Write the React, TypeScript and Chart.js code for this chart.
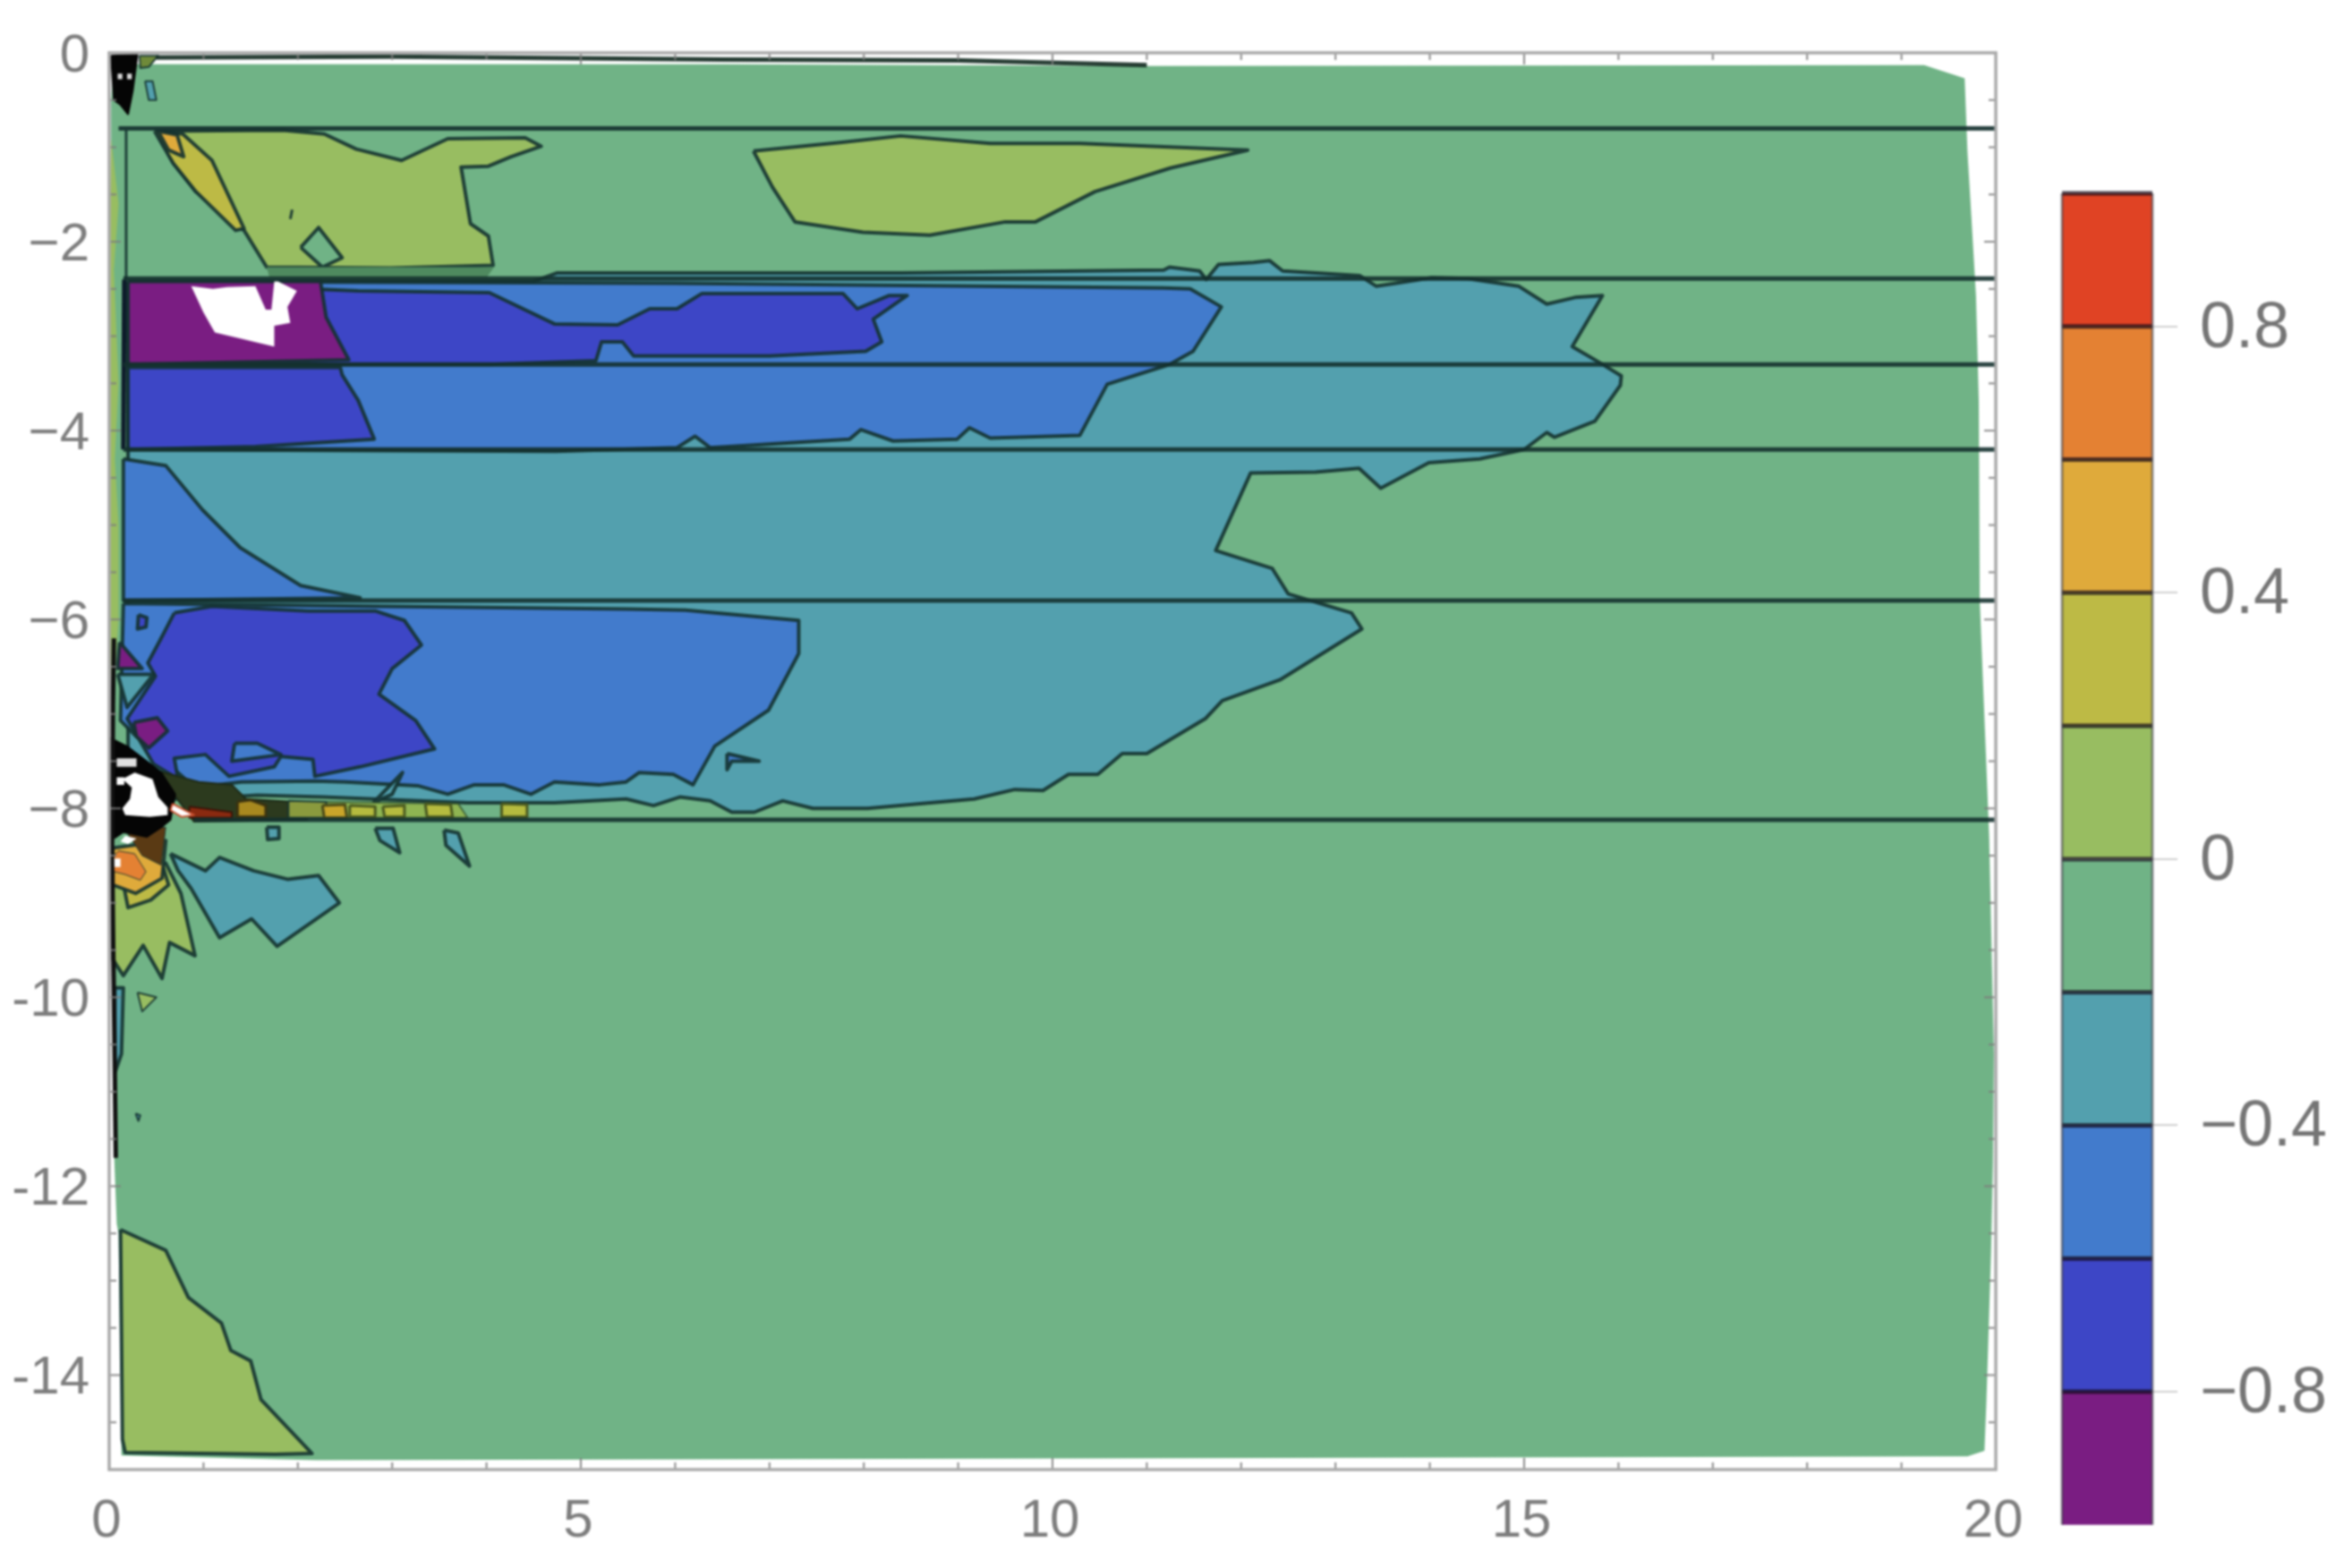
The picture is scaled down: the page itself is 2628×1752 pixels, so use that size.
import React, { useEffect, useRef } from "react";
import { Chart, registerables } from "chart.js";

Chart.register(...registerables);

type P = number[];

const xTicks = [0, 5, 10, 15, 20];
const xLabels = ["0", "5", "10", "15", "20"];
const yTicks = [0, -2, -4, -6, -8, -10, -12, -14];
const yLabels = ["0", "−2", "−4", "−6", "−8", "-10", "-12", "-14"];
const xMinor = [1, 2, 3, 4, 6, 7, 8, 9, 11, 12, 13, 14, 16, 17, 18, 19];
const yMinor = [-0.5, -1, -1.5, -2.5, -3, -3.5, -4.5, -5, -5.5, -6.5, -7, -7.5, -8.5, -9, -9.5, -10.5, -11, -11.5, -12.5, -13, -13.5, -14.5];

const barLevels = [-1, -0.8, -0.6, -0.4, -0.2, 0, 0.2, 0.4, 0.6, 0.8, 1];
const barSeparators = [-0.8, -0.6, -0.4, -0.2, 0, 0.2, 0.4, 0.6, 0.8, 1];
const barColors = ["#7A1D82", "#3D46C6", "#427BCC", "#53A0AE", "#70B386", "#98BD61", "#BDBA45", "#DFAA3B", "#E48133", "#E04324"];
const barTicks = [-0.8, -0.4, 0, 0.4, 0.8];
const barLabels = ["−0.8", "−0.4", "0", "0.4", "0.8"];

const PURPLE = barColors[0], DARK = barColors[1], BLUE = barColors[2], TEAL = barColors[3], GREEN = barColors[4];
const YG = barColors[5], OLIVE = barColors[6], GOLD = barColors[7], ORANGE = barColors[8];

const greenField: P[] = [[0.05, -0.12], [6.5, -0.12], [11, -0.14], [19.24, -0.13], [19.67, -0.27], [19.7, -1.05], [19.74, -1.72], [19.79, -2.57], [19.82, -3.7], [19.83, -5.8], [19.93, -8.3], [19.98, -10.6], [19.97, -11.76], [19.95, -12.7], [19.92, -13.66], [19.9, -14.29], [19.88, -14.8], [19.7, -14.86], [2.2, -14.9], [0.13, -14.85], [0.1, -12.5], [0.08, -12.4], [0.05, -11.6], [0.03, -8], [0.02, -0.5]];
const leftStrip: P[] = [[0.02, -0.9], [0.1, -1.6], [0.05, -2.3], [0.1, -3.5], [0.06, -4.3], [0.1, -5], [0.1, -6], [0.03, -7], [0.0, -6], [0.0, -2]];

const ygLeft: P[] = [[0.5, -0.83], [1.84, -0.82], [2.28, -0.86], [2.62, -1.02], [3.1, -1.14], [3.59, -0.91], [4.41, -0.9], [4.58, -0.99], [4.26, -1.1], [4.02, -1.2], [3.73, -1.21], [3.83, -1.81], [4.02, -1.94], [4.07, -2.25], [2.98, -2.28], [1.67, -2.27], [1.43, -1.88], [0.92, -1.47], [0.68, -1.17]];
const oliveStrip: P[] = [[0.48, -0.83], [0.78, -0.86], [1.09, -1.14], [1.43, -1.86], [1.34, -1.88], [0.92, -1.47], [0.68, -1.17]];
const goldBlob: P[] = [[0.52, -0.83], [0.72, -0.87], [0.79, -1.1], [0.63, -1.03]];
const greenHole: P[] = [[2.03, -2.06], [2.22, -1.85], [2.47, -2.17], [2.26, -2.27]];
const ygMark: P[] = [[1.94, -1.66], [1.92, -1.76]];
const darkGreenBand: P[] = [[1.67, -2.27], [4.08, -2.27], [4.0, -2.38], [1.7, -2.38]];
const ygMiddle: P[] = [[6.83, -1.04], [7.75, -0.95], [8.39, -0.88], [9.34, -0.96], [10.29, -0.96], [12.07, -1.03], [11.25, -1.22], [10.45, -1.47], [9.82, -1.79], [9.5, -1.79], [8.7, -1.93], [7.99, -1.9], [7.27, -1.79], [7.03, -1.42]];
const ygBottom: P[] = [[0.12, -12.46], [0.6, -12.68], [0.84, -13.18], [1.19, -13.45], [1.29, -13.74], [1.5, -13.85], [1.61, -14.26], [2.15, -14.83], [1.76, -14.84], [0.17, -14.82], [0.14, -14.68]];

const tealMain: P[] = [[0.2, -2.42], [4.5, -2.42], [4.75, -2.33], [8.39, -2.33], [11.18, -2.3], [11.24, -2.27], [11.56, -2.31], [11.63, -2.4], [11.76, -2.24], [12.13, -2.22], [12.3, -2.2], [12.44, -2.31], [13.26, -2.36], [13.43, -2.47], [13.64, -2.44], [14.02, -2.38], [14.4, -2.39], [14.94, -2.47], [15.24, -2.66], [15.54, -2.59], [15.83, -2.57], [15.51, -3.11], [15.8, -3.28], [16.03, -3.42], [16.02, -3.52], [15.75, -3.9], [15.32, -4.07], [15.24, -4.02], [15.0, -4.2], [14.53, -4.3], [13.99, -4.34], [13.48, -4.61], [13.25, -4.4], [12.79, -4.44], [12.1, -4.45], [11.73, -5.27], [12.33, -5.46], [12.5, -5.73], [13.17, -5.93], [13.28, -6.1], [12.41, -6.64], [11.8, -6.86], [11.62, -7.05], [11.0, -7.42], [10.74, -7.42], [10.48, -7.64], [10.17, -7.64], [9.9, -7.81], [9.6, -7.8], [9.17, -7.9], [8.6, -7.95], [8.04, -8.0], [7.46, -8.0], [7.14, -7.92], [6.84, -8.04], [6.6, -8.04], [6.37, -7.92], [6.05, -7.88], [5.77, -7.97], [5.48, -7.9], [4.72, -7.94], [3.8, -7.94], [2.26, -7.88], [1.57, -7.86], [0.9, -7.9], [0.2, -7.9]];
const blueUpper: P[] = [[0.2, -2.42], [6, -2.44], [11.18, -2.49], [11.46, -2.5], [11.79, -2.69], [11.49, -3.16], [11.24, -3.3], [10.58, -3.51], [10.29, -4.05], [9.34, -4.08], [9.12, -3.97], [8.99, -4.09], [8.31, -4.11], [7.97, -3.99], [7.85, -4.09], [6.37, -4.18], [6.21, -4.06], [6.02, -4.18], [4.73, -4.22], [0.2, -4.2]];
const darkUpper: P[] = [[0.2, -2.42], [2.64, -2.52], [4.03, -2.54], [4.72, -2.87], [5.39, -2.88], [5.73, -2.71], [6.02, -2.71], [6.28, -2.55], [7.78, -2.55], [7.93, -2.71], [8.27, -2.57], [8.46, -2.57], [8.1, -2.82], [8.19, -3.06], [8.02, -3.16], [7.0, -3.21], [5.56, -3.21], [5.44, -3.06], [5.22, -3.06], [5.16, -3.26], [4.03, -3.3], [2.54, -3.3], [0.2, -3.3]];
const darkUpperLow: P[] = [[0.2, -3.33], [2.45, -3.33], [2.47, -3.41], [2.64, -3.68], [2.81, -4.09], [1.55, -4.17], [0.2, -4.2]];
const purpleUpper: P[] = [[0.2, -2.42], [2.24, -2.42], [2.3, -2.8], [2.54, -3.25], [0.2, -3.3]];
const whiteUpper: P[] = [[0.87, -2.47], [1.1, -2.5], [1.25, -2.48], [1.55, -2.47], [1.66, -2.72], [1.72, -2.72], [1.75, -2.42], [1.79, -2.42], [1.99, -2.52], [1.89, -2.69], [1.92, -2.86], [1.75, -2.89], [1.75, -3.11], [1.12, -2.96], [1.0, -2.75]];

const blueWedge: P[] = [[0.15, -4.3], [0.6, -4.37], [0.99, -4.84], [1.39, -5.24], [2.03, -5.64], [2.66, -5.77], [0.15, -5.8]];
const blueMain: P[] = [[0.15, -5.83], [5.48, -5.89], [6.11, -5.9], [7.31, -6.01], [7.31, -6.36], [6.99, -6.96], [6.42, -7.34], [6.19, -7.75], [5.98, -7.64], [5.62, -7.62], [5.48, -7.72], [5.2, -7.75], [4.72, -7.72], [4.47, -7.85], [4.18, -7.75], [3.87, -7.75], [3.59, -7.85], [3.27, -7.76], [2.51, -7.72], [2.19, -7.71], [1.4, -7.72], [0.91, -7.78], [0.28, -7.23], [0.12, -7.07]];
const darkMain: P[] = [[0.69, -5.93], [1.09, -5.86], [2.11, -5.91], [2.82, -5.91], [3.13, -6.01], [3.31, -6.27], [3.0, -6.52], [2.86, -6.79], [3.25, -7.07], [3.45, -7.37], [2.66, -7.56], [2.18, -7.66], [2.16, -7.48], [1.82, -7.45], [1.75, -7.56], [1.27, -7.66], [1.02, -7.43], [0.69, -7.47], [0.73, -7.69], [0.47, -7.53], [0.19, -7.05], [0.49, -6.6], [0.41, -6.46], [0.55, -6.2]];
const blueSpeck: P[] = [[1.33, -7.31], [1.57, -7.31], [1.82, -7.43], [1.3, -7.5]];
const blueIsland: P[] = [[6.55, -7.42], [6.89, -7.5], [6.6, -7.5], [6.55, -7.59]];
const darkSpeck: P[] = [[0.31, -5.95], [0.4, -5.98], [0.39, -6.08], [0.3, -6.1]];
const purpleBlob: P[] = [[0.26, -7.09], [0.51, -7.04], [0.62, -7.18], [0.42, -7.36], [0.29, -7.24]];
const purpleTip: P[] = [[0.11, -6.24], [0.35, -6.52], [0.09, -6.52]];
const tealTip: P[] = [[0.09, -6.58], [0.47, -6.58], [0.19, -6.93]];
const tealSliver: P[] = [[2.8, -7.94], [3.11, -7.62], [3.0, -7.85]];

const fringeBand: P[] = [[0.5, -7.6], [0.95, -7.72], [1.3, -7.75], [1.45, -7.9], [1.95, -7.93], [2.1, -8.12], [0.9, -8.14]];
const ygBand: P[] = [[2.3, -7.93], [3.7, -7.95], [3.8, -8.1], [2.3, -8.1]];
const oliveA: P[] = [[1.9, -7.92], [2.3, -7.93], [2.3, -8.1], [1.9, -8.1]];
const goldA: P[] = [[1.36, -7.93], [1.5, -7.91], [1.66, -7.97], [1.66, -8.09], [1.36, -8.09]];
const goldB: P[] = [[2.26, -7.97], [2.5, -7.96], [2.52, -8.1], [2.28, -8.1]];
const oliveB: P[] = [[2.55, -7.97], [2.82, -7.98], [2.82, -8.09], [2.55, -8.09]];
const oliveC: P[] = [[2.9, -7.98], [3.13, -7.97], [3.13, -8.09], [2.92, -8.09]];
const oliveD: P[] = [[3.35, -7.95], [3.62, -7.96], [3.64, -8.09], [3.37, -8.09]];
const oliveE: P[] = [[4.16, -7.95], [4.43, -7.96], [4.43, -8.09], [4.16, -8.09]];
const redStreak: P[] = [[0.85, -7.98], [1.3, -8.04], [1.3, -8.1], [0.85, -8.1]];

const blackBlob: P[] = [[0, -7.25], [0.2, -7.35], [0.55, -7.62], [0.7, -7.85], [0.65, -8.12], [0.55, -8.2], [0.4, -8.3], [0.15, -8.25], [0, -8.35]];
const whiteBlob: P[] = [[0.14, -7.69], [0.27, -7.62], [0.46, -7.69], [0.52, -7.88], [0.62, -7.99], [0.62, -8.07], [0.43, -8.09], [0.17, -8.07], [0.14, -8.0], [0.22, -7.9], [0.24, -7.78]];
const whiteTip: P[] = [[0.67, -7.95], [0.9, -8.07], [0.77, -8.09], [0.65, -8.02]];
const whiteSide: P[] = [[0.08, -7.67], [0.16, -7.67], [0.16, -7.75], [0.08, -7.75]];
const whiteKnob: P[] = [[0.08, -7.47], [0.29, -7.47], [0.29, -7.56], [0.08, -7.56]];
const whiteChip: P[] = [[0.17, -8.29], [0.29, -8.32], [0.2, -8.38], [0.12, -8.35]];
const whiteDot: P[] = [[0.05, -8.53], [0.12, -8.53], [0.12, -8.62], [0.05, -8.62]];

const ygLower: P[] = [[0.04, -8.81], [0.6, -8.58], [0.76, -8.9], [0.91, -9.56], [0.64, -9.42], [0.56, -9.8], [0.36, -9.45], [0.15, -9.77], [0.04, -9.6]];
const oliveLower: P[] = [[0.09, -8.5], [0.52, -8.46], [0.63, -8.81], [0.44, -8.97], [0.2, -9.05]];
const goldLower: P[] = [[0.04, -8.42], [0.6, -8.34], [0.56, -8.74], [0.28, -8.9], [0.04, -8.81]];
const orangeLower: P[] = [[0.1, -8.45], [0.27, -8.48], [0.39, -8.67], [0.33, -8.76], [0.17, -8.7], [0.01, -8.66], [0.01, -8.54]];
const brownLower: P[] = [[0.15, -8.2], [0.6, -8.2], [0.55, -8.6], [0.35, -8.5]];
const ygSpeck: P[] = [[0.3, -9.95], [0.5, -10], [0.35, -10.15]];
const tealDot: P[] = [[0.28, -11.23], [0.33, -11.25], [0.31, -11.31]];
const tealLower: P[] = [[0.65, -8.48], [1.02, -8.66], [1.17, -8.52], [1.53, -8.66], [1.89, -8.75], [2.22, -8.71], [2.44, -9.0], [1.78, -9.46], [1.51, -9.17], [1.17, -9.37], [0.87, -8.85], [0.73, -8.66]];
const tealShardA: P[] = [[2.82, -8.21], [3.01, -8.21], [3.08, -8.47], [2.87, -8.34]];
const tealShardB: P[] = [[3.55, -8.23], [3.7, -8.26], [3.82, -8.61], [3.57, -8.39]];
const tealShardC: P[] = [[1.67, -8.2], [1.8, -8.2], [1.8, -8.32], [1.68, -8.33]];
const tealShardD: P[] = [[0.06, -9.9], [0.15, -9.9], [0.13, -10.6], [0.06, -10.8]];
const topBlack: P[] = [[0.02, -0.03], [0.3, -0.02], [0.25, -0.4], [0.2, -0.65], [0.12, -0.55], [0.05, -0.5]];
const topSpeckA: P[] = [[0.09, -0.22], [0.14, -0.22], [0.14, -0.28], [0.09, -0.28]];
const topSpeckB: P[] = [[0.19, -0.22], [0.24, -0.22], [0.24, -0.28], [0.19, -0.28]];
const topOlive: P[] = [[0.32, -0.03], [0.52, -0.03], [0.42, -0.15], [0.33, -0.16]];
const topTeal: P[] = [[0.38, -0.3], [0.46, -0.3], [0.5, -0.5], [0.42, -0.5]];

const topContour: P[] = [[0.5, -0.05], [3, -0.04], [6.5, -0.07], [9, -0.08], [11, -0.13]];
const leftSpine: P[] = [[0.05, -6.2], [0.04, -6.9], [0.03, -8.5], [0.05, -10], [0.07, -11.7]];
const innerEdge: P[] = [[0.18, -0.83], [0.18, -2.4]];
const innerEdgeLow: P[] = [[0.16, -2.4], [0.15, -4.2]];
const lineLevels: P[] = [[0.1, -0.8], [0.15, -2.39], [0.15, -3.3], [0.15, -4.2], [0.15, -5.8], [0.9, -8.12]];

const FRAME = "#a9a9a9";
const EDGE = "rgba(20,50,48,0.9)";

type Item = { pts: P[]; fill: string | null; line?: string; w?: number };
const items: Item[] = [
  { pts: greenField, fill: GREEN, line: "transparent", w: 0 },
  { pts: leftStrip, fill: YG, line: "transparent", w: 0 },
  { pts: ygLeft, fill: YG }, { pts: oliveStrip, fill: OLIVE }, { pts: goldBlob, fill: GOLD }, { pts: greenHole, fill: GREEN }, { pts: ygMark, fill: null, w: 3 }, { pts: darkGreenBand, fill: "#4f8a5f", line: "transparent", w: 0 }, { pts: ygMiddle, fill: YG }, { pts: ygBottom, fill: YG },
  { pts: tealMain, fill: TEAL }, { pts: blueUpper, fill: BLUE }, { pts: darkUpper, fill: DARK }, { pts: darkUpperLow, fill: DARK }, { pts: purpleUpper, fill: PURPLE }, { pts: whiteUpper, fill: "#ffffff", line: "transparent", w: 0 },
  { pts: blueWedge, fill: BLUE }, { pts: blueMain, fill: BLUE }, { pts: darkMain, fill: DARK }, { pts: blueSpeck, fill: BLUE }, { pts: blueIsland, fill: BLUE }, { pts: darkSpeck, fill: DARK }, { pts: purpleBlob, fill: PURPLE }, { pts: purpleTip, fill: PURPLE }, { pts: tealTip, fill: TEAL }, { pts: tealSliver, fill: TEAL },
  { pts: ygBand, fill: "#8fb552", line: "rgba(40,70,40,0.7)", w: 2 }, { pts: fringeBand, fill: "#2c3a1e", line: "#1d2a18", w: 2 }, { pts: oliveA, fill: "#8a9a3e", w: 2 }, { pts: goldA, fill: "#a8891f", line: "#3a3210", w: 3 }, { pts: goldB, fill: "#c9a52a", line: "#4a4a18", w: 3 }, { pts: oliveB, fill: "#b5bb3f", line: "#4a5a20", w: 3 }, { pts: oliveC, fill: "#b5bb3f", line: "#4a5a20", w: 3 }, { pts: oliveD, fill: "#b5bb3f", line: "#4a5a20", w: 3 }, { pts: oliveE, fill: "#b5bb3f", line: "#4a5a20", w: 3 }, { pts: redStreak, fill: "#8a2a10", line: "#3a1408", w: 2 },
  { pts: ygLower, fill: YG }, { pts: oliveLower, fill: OLIVE }, { pts: goldLower, fill: GOLD }, { pts: brownLower, fill: "#5a3a14", w: 1 }, { pts: orangeLower, fill: ORANGE, w: 1 }, { pts: ygSpeck, fill: YG, w: 2 }, { pts: tealDot, fill: TEAL, w: 2 },
  { pts: tealLower, fill: TEAL }, { pts: tealShardA, fill: TEAL }, { pts: tealShardB, fill: TEAL }, { pts: tealShardC, fill: TEAL }, { pts: tealShardD, fill: TEAL },
  { pts: blackBlob, fill: "#050505", line: "#050505", w: 2 }, { pts: whiteBlob, fill: "#ffffff", line: "transparent", w: 0 }, { pts: whiteTip, fill: "#ffffff", line: "#c9502f", w: 2 }, { pts: whiteSide, fill: "#ffffff", line: "transparent", w: 0 }, { pts: whiteKnob, fill: "#e0e0e0", line: "transparent", w: 0 }, { pts: whiteChip, fill: "#ffffff", line: "transparent", w: 0 }, { pts: whiteDot, fill: "#ffffff", line: "transparent", w: 0 },
  { pts: topBlack, fill: "#050505", line: "#050505", w: 2 }, { pts: topSpeckA, fill: "#d8d8d8", line: "transparent", w: 0 }, { pts: topSpeckB, fill: "#d8d8d8", line: "transparent", w: 0 }, { pts: topOlive, fill: "#6f8a3a", w: 2 }, { pts: topTeal, fill: TEAL, w: 2 },
  { pts: topContour, fill: null, line: "rgba(15,40,30,0.9)", w: 5 },
  { pts: leftSpine, fill: null, line: "#111111", w: 5 },
  { pts: innerEdge, fill: null, line: EDGE, w: 3 },
  { pts: innerEdgeLow, fill: null, line: "#0d1a2a", w: 5 },
  ...lineLevels.map(([start, y]) => ({ pts: [[start, y], [20, y]], fill: null, line: "rgba(20,48,46,0.9)", w: 5 })),
];

const PLOT = { left: 122, top: 59, right: 2230, bottom: 1642 };
const BAR = { left: 2304, top: 216, right: 2405, canvasHeight: 1772 };
const TEXT = "#7d7d7d";
const FONT = "'Liberation Sans', Arial, sans-serif";

const framePlugin = {
  id: "frameTicks",
  afterDatasetsDraw(chart: any) {
    const { ctx, chartArea: a, scales } = chart;
    ctx.save();
    ctx.strokeStyle = "rgba(125,125,125,0.9)";
    ctx.lineWidth = 2;
    const seg = (x1: number, y1: number, x2: number, y2: number) => { ctx.beginPath(); ctx.moveTo(x1, y1); ctx.lineTo(x2, y2); ctx.stroke(); };
    const xt = (v: number, l: number) => { const p = scales.x.getPixelForValue(v); seg(p, a.bottom, p, a.bottom - l); seg(p, a.top, p, a.top + l); };
    const yt = (v: number, l: number) => { const p = scales.y.getPixelForValue(v); seg(a.left, p, a.left + l, p); seg(a.right, p, a.right - l, p); };
    xMinor.forEach((v) => xt(v, 8)); xTicks.forEach((v) => xt(v, 13));
    yMinor.forEach((v) => yt(v, 8)); yTicks.forEach((v) => yt(v, 13));
    ctx.strokeStyle = FRAME;
    ctx.lineWidth = 3.5;
    ctx.strokeRect(a.left, a.top, a.right - a.left, a.bottom - a.top);
    ctx.restore();
  },
};

const separatorPlugin = {
  id: "barSeparators",
  afterDatasetsDraw(chart: any) {
    const { ctx, chartArea: a, scales } = chart;
    ctx.save();
    ctx.strokeStyle = "rgba(20,10,25,0.72)";
    ctx.lineWidth = 5;
    barSeparators.forEach((v) => {
      const p = scales.y.getPixelForValue(v);
      ctx.beginPath(); ctx.moveTo(a.left, p); ctx.lineTo(a.right, p); ctx.stroke();
    });
    ctx.strokeStyle = "rgba(60,60,70,0.55)";
    ctx.lineWidth = 3;
    ctx.beginPath(); ctx.moveTo(a.left, a.top); ctx.lineTo(a.left, a.bottom); ctx.moveTo(a.right, a.top); ctx.lineTo(a.right, a.bottom); ctx.stroke();
    ctx.restore();
  },
};

export default function App() {
  const plotRef = useRef<HTMLCanvasElement>(null);
  const barRef = useRef<HTMLCanvasElement>(null);

  useEffect(() => {
    const plot = new Chart(plotRef.current!, {
      type: "scatter",
      data: {
        datasets: items.map((it, i) => ({
          data: (it.fill ? [...it.pts, it.pts[0]] : it.pts).map(([x, y]) => ({ x, y })),
          showLine: true,
          fill: it.fill ? "shape" : false,
          backgroundColor: it.fill ?? "transparent",
          borderColor: it.line ?? EDGE,
          borderWidth: it.w ?? 4,
          borderJoinStyle: "round",
          pointRadius: 0,
          tension: 0,
          order: -i,
        })),
      },
      options: {
        animation: false,
        responsive: false,
        events: [],
        layout: { padding: { left: 0, top: PLOT.top, right: 2628 - PLOT.right, bottom: 0 } },
        plugins: { legend: { display: false }, tooltip: { enabled: false } },
        scales: {
          x: {
            type: "linear", min: 0, max: 20,
            border: { display: false }, grid: { display: false },
            afterBuildTicks: (s: any) => { s.ticks = xTicks.map((value) => ({ value })); },
            afterFit: (s: any) => { s.height = 1752 - PLOT.bottom; },
            ticks: {
              autoSkip: false, maxRotation: 0, padding: 14, labelOffset: -3, color: TEXT,
              font: { family: FONT, size: 60 },
              callback: (v: any) => xLabels[xTicks.indexOf(v)] ?? "",
            },
          },
          y: {
            type: "linear", min: -15, max: 0,
            border: { display: false }, grid: { display: false },
            afterBuildTicks: (s: any) => { s.ticks = yTicks.map((value) => ({ value })); },
            afterFit: (s: any) => { s.width = PLOT.left; },
            ticks: {
              autoSkip: false, padding: 14, labelOffset: 4, color: TEXT,
              font: { family: FONT, size: 60 },
              callback: (v: any) => yLabels[yTicks.indexOf(v)] ?? "",
            },
          },
        },
      },
      plugins: [framePlugin],
    } as any);

    const bar = new Chart(barRef.current!, {
      type: "bar",
      data: {
        labels: ["levels"],
        datasets: barColors.map((c, i) => ({
          data: [[barLevels[i], barLevels[i + 1]]],
          backgroundColor: c,
          borderWidth: 0,
          barPercentage: 1,
          categoryPercentage: 1,
          grouped: false,
        })),
      },
      options: {
        animation: false,
        responsive: false,
        events: [],
        layout: { autoPadding: false, padding: { left: BAR.left, top: BAR.top, right: 0, bottom: 0 } },
        plugins: { legend: { display: false }, tooltip: { enabled: false } },
        scales: {
          x: { display: false, offset: true, afterFit: (s: any) => { s.height = 0; } },
          y: {
            position: "right", type: "linear", min: -1, max: 1,
            border: { display: false },
            grid: { drawOnChartArea: false, tickLength: 28, tickColor: "#cfcfcf", lineWidth: 2 },
            afterBuildTicks: (s: any) => { s.ticks = barTicks.map((value) => ({ value })); },
            afterFit: (s: any) => { s.width = 2628 - BAR.right; },
            ticks: {
              autoSkip: false, padding: 25, labelOffset: 3, color: "#757575",
              font: { family: FONT, size: 72 },
              callback: (v: any) => barLabels[barTicks.indexOf(v)] ?? "",
            },
          },
        },
      },
      plugins: [separatorPlugin],
    } as any);

    return () => { plot.destroy(); bar.destroy(); };
  }, []);

  const style: React.CSSProperties = { position: "absolute", left: 0, top: 0, width: 2628, height: 1752, filter: "blur(1px)" };
  return (
    <div style={{ position: "absolute", left: 0, top: 0, width: 2628, height: 1752, background: "#fff", overflow: "hidden" }}>
      <canvas ref={plotRef} width={2628} height={1752} style={style} />
      <canvas ref={barRef} width={2628} height={BAR.canvasHeight} style={{ ...style, height: BAR.canvasHeight }} />
    </div>
  );
}
